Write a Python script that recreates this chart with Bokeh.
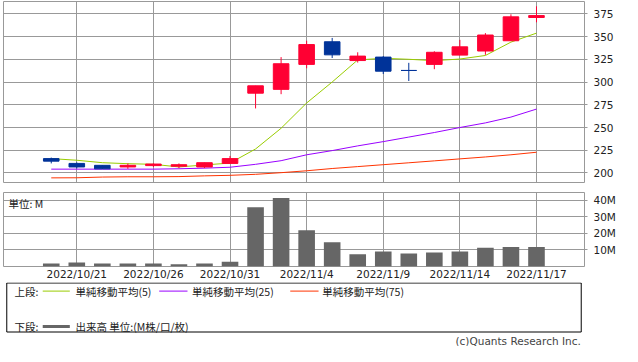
from bokeh.plotting import figure
from bokeh.models import Range1d, FixedTicker, Grid, Label, ColumnDataSource
from bokeh.layouts import column
from bokeh.core.properties import value
from bokeh.embed import file_html
from bokeh.resources import INLINE

# ---------------- data ----------------
dates = ["2022/10/20", "2022/10/21", "2022/10/24", "2022/10/25", "2022/10/26",
         "2022/10/27", "2022/10/28", "2022/10/31", "2022/11/1", "2022/11/2",
         "2022/11/4", "2022/11/7", "2022/11/8", "2022/11/9", "2022/11/10",
         "2022/11/11", "2022/11/14", "2022/11/15", "2022/11/16", "2022/11/17"]
open_ = [215.8, 210.5, 208.4, 206.6, 208.1, 207.4, 206.6, 210.5, 287.8, 292.0,
         319.5, 344.4, 323.7, 327.5, 312.8, 319.5, 329.7, 334.2, 345.5, 371.1]
close = [213.0, 206.6, 204.5, 208.4, 209.8, 209.1, 211.3, 215.8, 295.9, 320.2,
         341.3, 330.0, 328.6, 312.0, 312.8, 332.8, 338.8, 351.8, 371.8, 373.2]
high = [216.9, 211.6, 208.4, 210.5, 210.5, 210.5, 211.3, 218.7, 295.9, 327.5,
        345.5, 348.6, 332.8, 328.6, 321.2, 333.9, 346.5, 353.9, 374.6, 383.4]
low = [210.5, 205.0, 204.5, 204.5, 206.6, 205.3, 205.3, 210.5, 271.0, 286.7,
       315.2, 326.5, 321.5, 308.9, 301.2, 314.2, 329.7, 330.0, 345.5, 365.8]
ma5 = [215.8, 214.0, 211.3, 210.2, 209.5, 206.6, 208.8, 210.9, 226.4, 249.2,
       277.0, 300.1, 324.4, 326.2, 325.1, 323.6, 325.4, 329.3, 344.0, 353.9]
ma25 = [204.2, 204.2, 204.2, 204.2, 204.2, 204.6, 205.3, 206.3, 209.5, 213.5,
        220.0, 224.6, 229.8, 234.5, 239.5, 244.5, 250.0, 255.1, 261.5, 270.3]
ma75 = [194.6, 194.7, 195.5, 195.8, 195.8, 196.0, 196.8, 197.4, 198.5, 200.3,
        202.4, 204.9, 207.0, 209.1, 211.2, 213.3, 215.5, 217.6, 220.0, 222.8]
volume_m = [1.8, 2.4, 1.8, 1.8, 1.8, 1.3, 1.8, 2.9, 35.7, 41.3,
            21.8, 14.6, 7.4, 9.1, 7.9, 8.5, 9.1, 11.3, 11.8, 11.8]
price_ticks = [200, 225, 250, 275, 300, 325, 350, 375]
volume_ticks = [10, 20, 30, 40]
volume_tick_labels = ["10M", "20M", "30M", "40M"]
date_tick_labels = ["2022/10/21", "2022/10/26", "2022/10/31", "2022/11/4",
                    "2022/11/9", "2022/11/14", "2022/11/17"]
legend_top = "上段:"
legend_bottom = "下段:"
ma_names = ["単純移動平均(5)", "単純移動平均(25)", "単純移動平均(75)"]
volume_name = "出来高 単位:(M株/口/枚)"
unit_label = "単位: M"
copyright_text = "(c)Quants Research Inc."

# ---------------- styles ----------------
UP = "#ff0033"
DOWN = "#003399"
C_MA5 = "#99cc00"
C_MA25 = "#9900ff"
C_MA75 = "#ff3300"
C_VOL = "#666666"
GRID = "#999999"
TXT = "#222222"
FONT = "DejaVu Sans"
JFONT = "Noto Sans CJK JP"
FS = "10.5px"

idx = list(range(len(dates)))
date_tick_idx = [dates.index(d) for d in date_tick_labels]
colors = [UP if c > o else DOWN for o, c in zip(open_, close)]
src = ColumnDataSource(dict(
    x=idx, open=open_, close=close, high=high, low=low,
    top=[max(o, c) for o, c in zip(open_, close)],
    bottom=[min(o, c) for o, c in zip(open_, close)],
    color=colors, ma5=ma5, ma25=ma25, ma75=ma75, vol=volume_m))

W = 622
X_START, X_END = -1.87, 20.88
BW_CANDLE = 0.61
BW_VOL = 0.65


def style_frame(p):
    p.outline_line_color = GRID
    p.outline_line_width = 1
    p.background_fill_color = "white"
    p.border_fill_color = "white"


# ---------------- top: candles ----------------
p1 = figure(width=W, height=186, output_backend="svg", toolbar_location=None,
            x_range=Range1d(X_START, X_END), y_range=Range1d(189.5, 388.7),
            x_axis_location=None, y_axis_location="right",
            min_border_left=3, min_border_right=38, min_border_top=1, min_border_bottom=4)
style_frame(p1)
for g in p1.xgrid:
    g.visible = False
p1.add_layout(Grid(dimension=0, ticker=FixedTicker(ticks=date_tick_idx),
                   grid_line_color=GRID, grid_line_width=1))
p1.yaxis.ticker = FixedTicker(ticks=price_ticks)
p1.ygrid.ticker = FixedTicker(ticks=price_ticks)
p1.ygrid.grid_line_color = GRID
p1.yaxis.axis_line_color = None
p1.yaxis.major_tick_line_color = GRID
p1.yaxis.major_tick_in = 0
p1.yaxis.major_tick_out = 3
p1.yaxis.minor_tick_line_color = None
p1.yaxis.major_label_standoff = 6
p1.yaxis.major_label_text_font = FONT
p1.yaxis.major_label_text_font_size = FS
p1.yaxis.major_label_text_color = TXT

p1.line("x", "ma75", source=src, line_color=C_MA75, line_width=1)
p1.line("x", "ma25", source=src, line_color=C_MA25, line_width=1)
p1.line("x", "ma5", source=src, line_color=C_MA5, line_width=1)
p1.segment(x0="x", y0="low", x1="x", y1="high", source=src, line_color="color", line_width=1)
p1.vbar(x="x", width=BW_CANDLE, top="top", bottom="bottom", source=src,
        fill_color="color", line_color="color", line_width=1)

# ---------------- bottom: volume ----------------
p2 = figure(width=W, height=96, output_backend="svg", toolbar_location=None,
            x_range=p1.x_range, y_range=Range1d(0, 44.6),
            y_axis_location="right",
            min_border_left=3, min_border_right=38, min_border_top=6, min_border_bottom=14)
style_frame(p2)
p2.xaxis.ticker = FixedTicker(ticks=date_tick_idx)
p2.xgrid.ticker = FixedTicker(ticks=date_tick_idx)
p2.xaxis.major_label_overrides = {i: l for i, l in zip(date_tick_idx, date_tick_labels)}
p2.yaxis.ticker = FixedTicker(ticks=volume_ticks)
p2.ygrid.ticker = FixedTicker(ticks=volume_ticks)
p2.yaxis.major_label_overrides = {t: l for t, l in zip(volume_ticks, volume_tick_labels)}
for ax in (p2.xaxis[0], p2.yaxis[0]):
    ax.axis_line_color = None
    ax.minor_tick_line_color = None
    ax.major_tick_line_color = GRID
    ax.major_tick_in = 0
    ax.major_label_text_font = FONT
    ax.major_label_text_font_size = FS
    ax.major_label_text_color = TXT
p2.xaxis.major_tick_out = 0
p2.xaxis.major_label_standoff = 1
p2.yaxis.major_tick_out = 3
p2.yaxis.major_label_standoff = 6
p2.xgrid.grid_line_color = GRID
p2.ygrid.grid_line_color = GRID
p2.vbar(x="x", width=BW_VOL, top="vol", bottom=0, source=src, fill_color=C_VOL, line_color=None)
p2.add_layout(Label(x=X_START, y=44.6, x_offset=5, y_offset=-3, text=unit_label,
                    text_font=JFONT, text_font_size=FS, text_color=TXT,
                    text_baseline="top", text_align="left"))

# ---------------- legend area ----------------
p3 = figure(width=W, height=64, output_backend="svg", toolbar_location=None,
            x_range=Range1d(0, W), y_range=Range1d(64, 0),
            x_axis_location=None, y_axis_location=None,
            min_border=0, outline_line_color=None)
p3.xgrid.visible = False
p3.ygrid.visible = False
p3.quad(left=[3.5], right=[618.5], top=[0.5], bottom=[49.5],
        fill_color=None, line_color="black", line_width=1)
row1, row2 = 8.6, 44
p3.segment(x0=[42, 166.7, 307], y0=[row1] * 3, x1=[71, 197, 337.3], y1=[row1] * 3,
           line_color=[C_MA5, C_MA25, C_MA75], line_width=1)
p3.segment(x0=[42], y0=[row2], x1=[71], y1=[row2], line_color=C_VOL, line_width=3)
p3.text(x=[11.7, 77, 201.8, 341.2, 11.7, 77],
        y=[row1, row1, row1, row1, row2, row2],
        text=[legend_top] + ma_names + [legend_bottom, volume_name],
        text_font=value(JFONT), text_font_size=FS, text_color=TXT,
        text_baseline="middle", text_align="left")
p3.text(x=[618], y=[58.5], text=[copyright_text], text_font=value(FONT),
        text_font_size=FS, text_color="#444444", text_baseline="middle", text_align="right")

layout = column(p1, p2, p3, spacing=0)
open("out.html", "w").write(file_html(layout, INLINE))
